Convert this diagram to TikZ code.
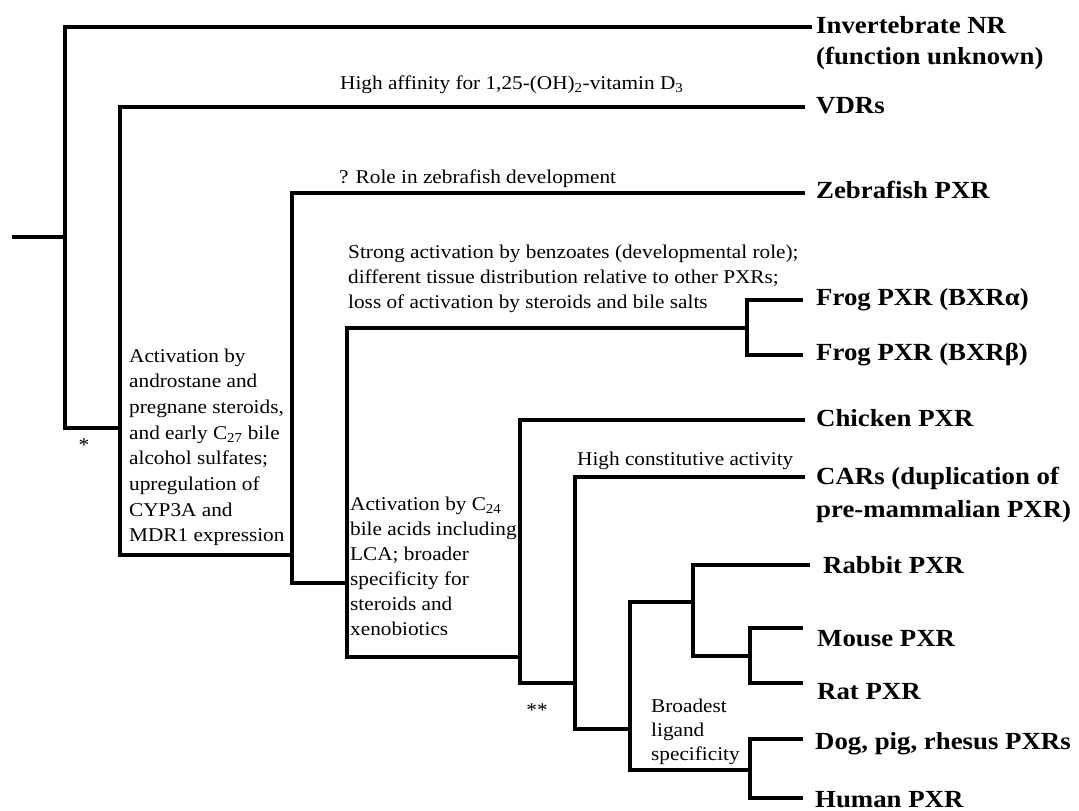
\documentclass[tikz,border=0pt]{standalone}
\usepackage{fontspec}
\setmainfont[FakeStretch=1.09]{Liberation Serif}
\newcommand\mylines[1]{\begin{tabular}[t]{@{}l@{}}#1\end{tabular}}
\begin{document}
\begin{tikzpicture}[x=1pt,y=-1pt,
  br/.style={line width=3.9pt,line join=miter},
  leaf/.style={anchor=base west,inner sep=0pt,font=\fontsize{24.6}{31}\selectfont\bfseries},
  note/.style={anchor=base west,inner sep=0pt,font=\fontsize{19.5}{25.5}\selectfont}]
\useasboundingbox (0,0) rectangle (1079,811);
% branch points
\coordinate (stub) at (12,237);
\coordinate (r) at (65,237);
\coordinate (n1t) at (65,27);   \coordinate (n1b) at (65,428);
\coordinate (n2) at (120,428);  \coordinate (n2t) at (120,107); \coordinate (n2b) at (120,555);
\coordinate (n3) at (292,555);  \coordinate (n3t) at (292,193); \coordinate (n3b) at (292,583);
\coordinate (n4) at (347,583);  \coordinate (n4t) at (347,328); \coordinate (n4b) at (347,657);
\coordinate (nf) at (747,328);  \coordinate (nft) at (747,300); \coordinate (nfb) at (747,355);
\coordinate (n5) at (520,657);  \coordinate (n5t) at (520,420); \coordinate (n5b) at (520,683);
\coordinate (n6) at (575,683);  \coordinate (n6t) at (575,477); \coordinate (n6b) at (575,729);
\coordinate (n7) at (630,729);  \coordinate (n7t) at (630,602); \coordinate (n7b) at (630,770);
\coordinate (n8) at (693,602);  \coordinate (n8t) at (693,565); \coordinate (n8b) at (693,656);
\coordinate (n9) at (750,656);  \coordinate (n9t) at (750,628); \coordinate (n9b) at (750,683);
\coordinate (n10) at (750,770); \coordinate (n10t) at (750,739); \coordinate (n10b) at (750,798);
% tips
\coordinate (tInv) at (812,27);
\coordinate (tVDR) at (805,107);
\coordinate (tZeb) at (805,193);
\coordinate (tFa) at (803,300);
\coordinate (tFb) at (803,355);
\coordinate (tChi) at (805,420);
\coordinate (tCAR) at (805,477);
\coordinate (tRab) at (810,565);
\coordinate (tMou) at (803,628);
\coordinate (tRat) at (803,683);
\coordinate (tDog) at (803,739);
\coordinate (tHum) at (803,798);
% branches
\draw[br] (stub) -- (r);
\draw[br] (tInv) -- (n1t) -- (n1b) -- (n2);
\draw[br] (tVDR) -- (n2t) -- (n2b) -- (n3);
\draw[br] (tZeb) -- (n3t) -- (n3b) -- (n4);
\draw[br] (nf) -- (n4t) -- (n4b) -- (n5);
\draw[br] (tFa) -- (nft) -- (nfb) -- (tFb);
\draw[br] (tChi) -- (n5t) -- (n5b) -- (n6);
\draw[br] (tCAR) -- (n6t) -- (n6b) -- (n7);
\draw[br] (n8) -- (n7t) -- (n7b) -- (n10);
\draw[br] (tRab) -- (n8t) -- (n8b) -- (n9);
\draw[br] (tMou) -- (n9t) -- (n9b) -- (tRat);
\draw[br] (tDog) -- (n10t) -- (n10b) -- (tHum);
% leaf labels
\node[leaf] (lInv) at (816,34) {\mylines{Invertebrate NR\\(function unknown)}};
\node[leaf] (lVDR) at (816,113) {VDRs};
\node[leaf] (lZeb) at (816,198) {Zebrafish PXR};
\node[leaf] (lFa) at (816,305) {Frog PXR (BXRα)};
\node[leaf] (lFb) at (816,360) {Frog PXR (BXRβ)};
\node[leaf] (lChi) at (816,426) {Chicken PXR};
\node[leaf,font=\fontsize{24.6}{33}\selectfont\bfseries] (lCAR) at (816,484) {\mylines{CARs (duplication of\\pre-mammalian PXR)}};
\node[leaf] (lRab) at (823,573) {Rabbit PXR};
\node[leaf] (lMou) at (817,646) {Mouse PXR};
\node[leaf] (lRat) at (817,699) {Rat PXR};
\node[leaf] (lDog) at (815,749) {Dog, pig, rhesus PXRs};
\node[leaf] (lHum) at (815,807) {Human PXR};
% annotations
\node[note] (aVDR) at (340,89) {High affinity for 1,25-(OH)\textsubscript{2}-vitamin D\textsubscript{3}};
\node[note] (aZeb) at (339,183) {? Role in zebrafish development};
\node[note,font=\fontsize{19.5}{25}\selectfont] (aFrog) at (348,258) {\mylines{Strong activation by benzoates (developmental role);\\different tissue distribution relative to other PXRs;\\loss of activation by steroids and bile salts}};
\node[note,font=\fontsize{19.5}{25.7}\selectfont] (aPXR) at (129,362) {\mylines{Activation by\\androstane and\\pregnane steroids,\\and early C\textsubscript{27} bile\\alcohol sulfates;\\upregulation of\\CYP3A and\\MDR1 expression}};
\node[inner sep=0pt,font=\fontsize{19.5}{25}\selectfont] (star1) at (84,445) {*};
\node[note,font=\fontsize{19.5}{25}\selectfont] (aC24) at (350,510) {\mylines{Activation by C\textsubscript{24}\\bile acids including\\LCA; broader\\specificity for\\steroids and\\xenobiotics}};
\node[note] (aCAR) at (577,465) {High constitutive activity};
\node[inner sep=0pt,font=\fontsize{19.5}{25}\selectfont] (star2) at (537,710) {**};
\node[note,font=\fontsize{19.5}{24}\selectfont] (aMam) at (651,712) {\mylines{Broadest\\ligand\\specificity}};
\end{tikzpicture}
\end{document}
